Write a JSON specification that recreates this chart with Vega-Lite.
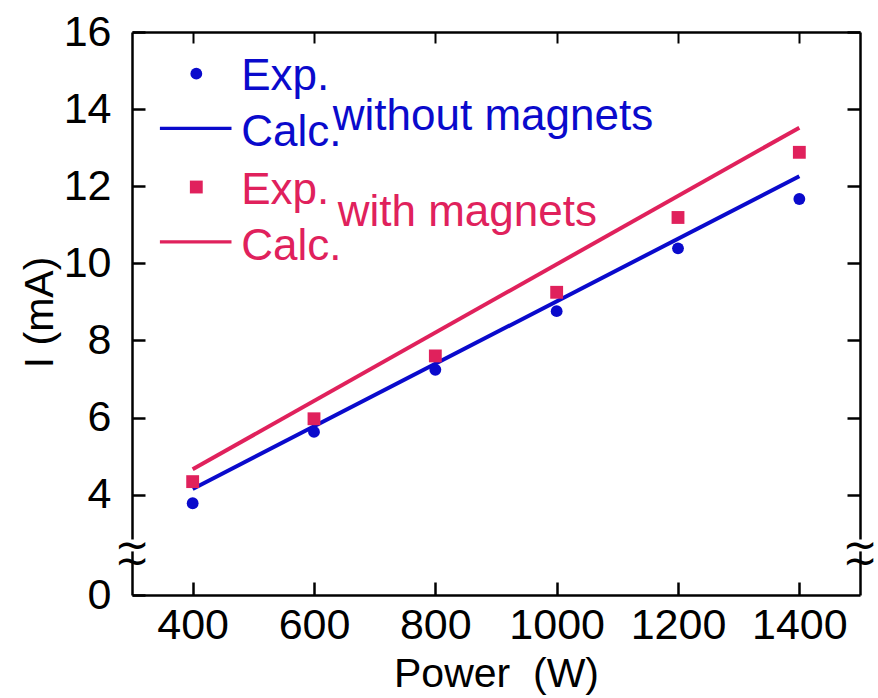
{
  "$schema": "https://vega.github.io/schema/vega-lite/v6.json",
  "width": 728,
  "height": 563,
  "autosize": {"type": "none"},
  "padding": {"left": 132, "top": 32, "right": 18, "bottom": 103},
  "background": "white",
  "config": {
    "view": {"stroke": null},
    "font": "Liberation Sans",
    "axis": {
      "domainColor": "black",
      "domainWidth": 2.5,
      "tickColor": "black",
      "tickWidth": 2.5,
      "grid": false,
      "labelFont": "Liberation Sans",
      "labelFontSize": 43,
      "labelColor": "black",
      "titleFont": "Liberation Sans",
      "titleFontSize": 41,
      "titleFontWeight": "normal",
      "titleColor": "black"
    }
  },
  "datasets": {
    "exp": [
      {"P": 400, "I": 3.78, "series": "without"},
      {"P": 600, "I": 5.63, "series": "without"},
      {"P": 800, "I": 7.24, "series": "without"},
      {"P": 1000, "I": 8.76, "series": "without"},
      {"P": 1200, "I": 10.39, "series": "without"},
      {"P": 1400, "I": 11.67, "series": "without"},
      {"P": 400, "I": 4.34, "series": "with"},
      {"P": 600, "I": 5.97, "series": "with"},
      {"P": 800, "I": 7.6, "series": "with"},
      {"P": 1000, "I": 9.25, "series": "with"},
      {"P": 1200, "I": 11.19, "series": "with"},
      {"P": 1400, "I": 12.88, "series": "with"}
    ],
    "calc": [
      {"P": 400, "I": 4.15, "series": "without"},
      {"P": 1400, "I": 12.26, "series": "without"},
      {"P": 400, "I": 4.66, "series": "with"},
      {"P": 1400, "I": 13.52, "series": "with"}
    ],
    "legsym": [
      {"P": 406, "I": 14.92, "series": "without"},
      {"P": 406, "I": 11.98, "series": "with"}
    ],
    "legline": [
      {"P": 346, "P2": 464, "I": 13.5, "series": "without"},
      {"P": 346, "P2": 464, "I": 10.56, "series": "with"}
    ],
    "legtext": [
      {"P": 480, "I": 14.49, "label": "Exp.", "series": "without"},
      {"P": 480, "I": 13.04, "label": "Calc.", "series": "without"},
      {"P": 631, "I": 13.47, "label": "without magnets", "series": "without"},
      {"P": 480, "I": 11.55, "label": "Exp.", "series": "with"},
      {"P": 480, "I": 10.09, "label": "Calc.", "series": "with"},
      {"P": 639, "I": 10.97, "label": "with magnets", "series": "with"}
    ],
    "gap": [
      {"P": 296, "P2": 304, "I": 2.53, "I2": 2.84},
      {"P": 1496, "P2": 1504, "I": 2.53, "I2": 2.84}
    ],
    "brk": [
      {"P": 300, "I": 2.67},
      {"P": 1500, "I": 2.67}
    ]
  },
  "resolve": {"axis": {"x": "independent", "y": "independent"}},
  "layer": [
    {
      "data": {"name": "calc"},
      "mark": {"type": "line", "strokeWidth": 4},
      "encoding": {
        "x": {
          "field": "P", "type": "quantitative",
          "scale": {"domain": [300, 1500], "nice": false, "zero": false},
          "axis": {
            "orient": "bottom",
            "values": [400, 600, 800, 1000, 1200, 1400],
            "format": "d",
            "tickSize": -13,
            "labelPadding": 22,
            "labelBaseline": "top",
            "title": "Power\u00a0\u00a0(W)",
            "titleX": 364,
            "titleY": 91,
            "titleBaseline": "alphabetic",
            "titleAlign": "center"
          }
        },
        "y": {
          "field": "I", "type": "quantitative",
          "scale": {"domain": [1.4, 16], "nice": false, "zero": false},
          "axis": {
            "orient": "left",
            "values": [1.4, 4, 6, 8, 10, 12, 14, 16],
            "labelExpr": "datum.value < 2 ? '0' : datum.label",
            "tickSize": -13,
            "labelPadding": 34,
            "title": "I (mA)",
            "titleX": -92,
            "titleY": 280,
            "titleAngle": 270,
            "titleAlign": "center",
            "titleBaseline": "middle"
          }
        },
        "detail": {"field": "series"},
        "color": {
          "field": "series", "type": "nominal",
          "scale": {"domain": ["without", "with"], "range": ["#0a0acc", "#e0215c"]},
          "legend": null
        }
      }
    },
    {
      "data": {"name": "exp"},
      "mark": {"type": "point", "filled": true, "opacity": 1},
      "encoding": {
        "x": {
          "field": "P", "type": "quantitative",
          "axis": {
            "orient": "top",
            "values": [400, 600, 800, 1000, 1200, 1400],
            "tickSize": -11,
            "tickWidth": 2,
            "labels": false,
            "title": null
          }
        },
        "y": {
          "field": "I", "type": "quantitative",
          "axis": {
            "orient": "right",
            "values": [4, 6, 8, 10, 12, 14, 16],
            "tickSize": -13,
            "labels": false,
            "title": null
          }
        },
        "color": {"field": "series", "type": "nominal", "legend": null},
        "shape": {
          "field": "series", "type": "nominal",
          "scale": {"domain": ["without", "with"], "range": ["circle", "square"]},
          "legend": null
        },
        "size": {
          "field": "series", "type": "nominal",
          "scale": {"domain": ["without", "with"], "range": [140, 165]},
          "legend": null
        }
      }
    },
    {
      "data": {"name": "legsym"},
      "mark": {"type": "point", "filled": true, "opacity": 1},
      "encoding": {
        "x": {"field": "P", "type": "quantitative", "axis": null},
        "y": {"field": "I", "type": "quantitative", "axis": null},
        "color": {"field": "series", "type": "nominal", "legend": null},
        "shape": {"field": "series", "type": "nominal", "legend": null},
        "size": {"field": "series", "type": "nominal", "legend": null}
      }
    },
    {
      "data": {"name": "legline"},
      "mark": {"type": "rule", "strokeWidth": 3.3},
      "encoding": {
        "x": {"field": "P", "type": "quantitative", "axis": null},
        "x2": {"field": "P2"},
        "y": {"field": "I", "type": "quantitative", "axis": null},
        "color": {"field": "series", "type": "nominal", "legend": null}
      }
    },
    {
      "data": {"name": "legtext"},
      "mark": {"type": "text", "align": "left", "baseline": "alphabetic", "fontSize": 44, "font": "Liberation Sans"},
      "encoding": {
        "x": {"field": "P", "type": "quantitative", "axis": null},
        "y": {"field": "I", "type": "quantitative", "axis": null},
        "text": {"field": "label"},
        "color": {"field": "series", "type": "nominal", "legend": null}
      }
    },
    {
      "data": {"name": "gap"},
      "mark": {"type": "rect", "color": "white", "strokeWidth": 0},
      "encoding": {
        "x": {"field": "P", "type": "quantitative", "axis": null},
        "x2": {"field": "P2"},
        "y": {"field": "I", "type": "quantitative", "axis": null},
        "y2": {"field": "I2"}
      }
    },
    {
      "data": {"name": "brk"},
      "mark": {"type": "text", "text": ["~", "~"], "lineHeight": 16, "align": "center", "baseline": "middle", "fontSize": 42, "font": "DejaVu Sans", "color": "black"},
      "encoding": {
        "x": {"field": "P", "type": "quantitative", "axis": null},
        "y": {"field": "I", "type": "quantitative", "axis": null}
      }
    }
  ]
}
